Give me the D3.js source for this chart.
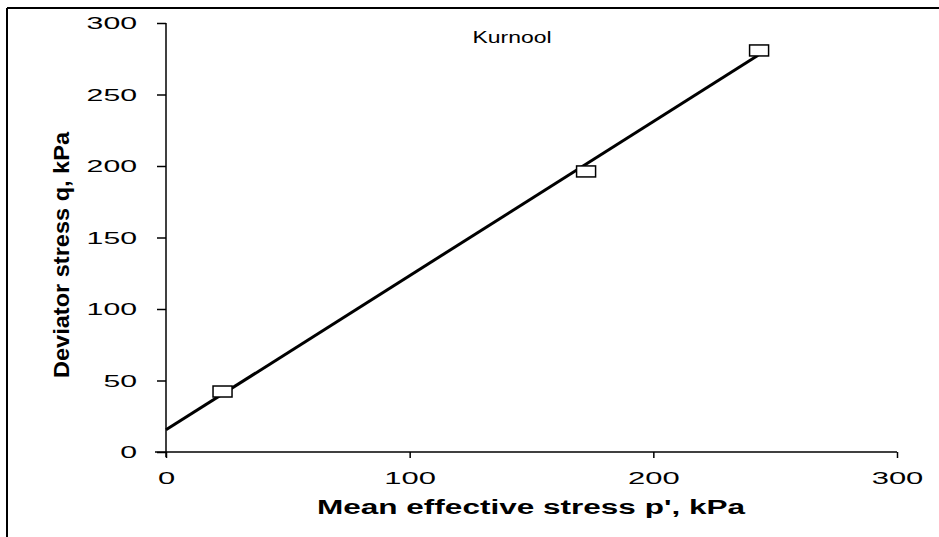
<!DOCTYPE html>
<html><head><meta charset="utf-8">
<script src="https://cdn.jsdelivr.net/npm/d3@7"></script>
<style>body{margin:0;background:#fff}svg{display:block}text{font-family:"Liberation Sans",Arial,sans-serif;fill:#000}</style>
</head><body>
<svg id="c" width="939" height="537"></svg>
<script>
const title = "Kurnool";
const xLabel = "Mean effective stress p', kPa";
const yLabel = "Deviator stress q, kPa";
const pointsP = [23.2, 172.4, 243.4];
const pointsQ = [42.3, 196.2, 280.8];
const lineP = [0, 243];
const lineQ = [15.5, 277.5];
const xTicks = [0, 100, 200, 300];
const yTicks = [0, 50, 100, 150, 200, 250, 300];

const svg = d3.select("#c");
const x = d3.scaleLinear().domain([0, 300]).range([166, 897]);
const y = d3.scaleLinear().domain([0, 300]).range([452, 23]);

// figure border (top and left)
svg.append("line").attr("x1", 7).attr("x2", 939).attr("y1", 8).attr("y2", 8).attr("stroke", "#000").attr("stroke-width", 2);
svg.append("line").attr("x1", 7).attr("x2", 7).attr("y1", 8).attr("y2", 537).attr("stroke", "#000").attr("stroke-width", 2);

// axes
const gx = svg.append("g").attr("transform", `translate(0,${y(0)})`)
  .call(d3.axisBottom(x).tickValues(xTicks).tickSize(6).tickSizeOuter(0).tickFormat(d3.format("d")));
gx.select(".domain").attr("d", `M155,0H${x(300)}`).attr("stroke-width", 1.5);
gx.selectAll(".tick line").attr("stroke-width", 1.5);
gx.selectAll(".tick text").attr("y", 0).attr("dy", 0).attr("transform", "translate(0,32)")
  .style("font-size", "17px").attr("font-family", "Liberation Sans, Arial, sans-serif")
  .attr("textLength", d => String(d).length * 17.2).attr("lengthAdjust", "spacingAndGlyphs");

const gy = svg.append("g").attr("transform", `translate(${x(0)},0)`)
  .call(d3.axisLeft(y).tickValues(yTicks).tickSize(9).tickSizeOuter(0).tickFormat(d3.format("d")));
gy.select(".domain").attr("d", `M0,${y(300)}V457`).attr("stroke-width", 1.5);
gy.selectAll(".tick line").attr("stroke-width", 1.5);
gy.selectAll(".tick text").attr("x", -29).attr("dy", "0.35em")
  .style("font-size", "17px").attr("font-family", "Liberation Sans, Arial, sans-serif")
  .attr("textLength", d => String(d).length * 16.8).attr("lengthAdjust", "spacingAndGlyphs");

// fit line
const lineData = lineP.map((p, i) => [p, lineQ[i]]);
svg.append("path").datum(lineData)
  .attr("d", d3.line().x(d => x(d[0])).y(d => y(d[1])))
  .attr("stroke", "#000").attr("stroke-width", 3).attr("fill", "none");

// points
const pts = pointsP.map((p, i) => [p, pointsQ[i]]);
svg.selectAll("rect.pt").data(pts).enter().append("rect").attr("class", "pt")
  .attr("x", d => x(d[0]) - 9.5).attr("y", d => y(d[1]) - 5.5)
  .attr("width", 19).attr("height", 11)
  .attr("fill", "#fff").attr("stroke", "#000").attr("stroke-width", 1.5);

// title
svg.append("text").attr("x", 512).attr("y", 43).attr("text-anchor", "middle")
  .style("font-size", "16px").attr("textLength", 79).attr("lengthAdjust", "spacingAndGlyphs").text(title);

// x label
svg.append("text").attr("x", 531).attr("y", 514).attr("text-anchor", "middle")
  .style("font-size", "20px").style("font-weight", "bold")
  .attr("textLength", 428).attr("lengthAdjust", "spacingAndGlyphs").text(xLabel);

// y label
svg.append("text").attr("transform", "translate(69,255) rotate(-90)").attr("text-anchor", "middle")
  .style("font-size", "22px").style("font-weight", "bold")
  .attr("textLength", 246).attr("lengthAdjust", "spacingAndGlyphs").text(yLabel);
</script>
</body></html>
